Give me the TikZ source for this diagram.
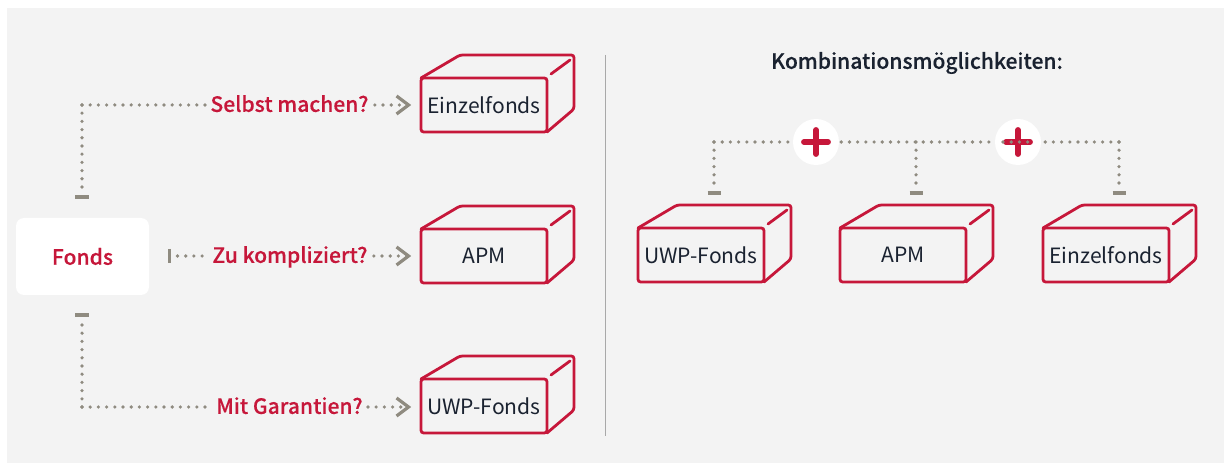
\documentclass[tikz,border=0pt]{standalone}
\usepackage{fontspec}
\setmainfont{Noto Sans CJK SC}
\newfontfamily\semifont[FakeBold=0.25]{Noto Sans CJK SC Medium}
\usetikzlibrary{calc}
\definecolor{crim}{HTML}{C6173A}
\definecolor{dotgray}{HTML}{8F8B80}
\definecolor{ink}{HTML}{1A2230}
\definecolor{panel}{HTML}{F3F3F3}
\definecolor{rulegray}{HTML}{A8A8A8}
\tikzset{
  x=0.75pt,y=-0.75pt,
  cubefront/.style={draw=crim,line width=2.1pt,rounded corners=2pt,minimum width=94.5pt,minimum height=40.5pt,inner sep=0pt,outer sep=0pt,text=ink,font=\fontsize{15.8}{18}\selectfont},
  cubeback/.style={draw=crim,line width=2.1pt,rounded corners=2pt,line cap=round,line join=round},
  dots/.style={draw=dotgray,line width=2.7pt,line cap=round,dash pattern=on 0pt off 6.15pt},
  tick/.style={draw=dotgray,line width=2.4pt},
  chev/.style={draw=dotgray,line width=2.4pt,line join=miter},
  question/.style={text=crim,font=\fontsize{15.8}{18}\selectfont\semifont,inner sep=0pt,text height=12pt,text depth=3.2pt},
  plusdisc/.style={circle,fill=white,minimum size=34.5pt,inner sep=0pt},
  plusbar/.style={draw=crim,line width=4.4pt,line cap=round},
}
\newcommand{\cubebox}[4]{%
  \node[cubefront] (#1) at (#2,#3) {#4};
  \draw[cubeback] (#1.north west) -- ++(39,-23) -- ++(114,0) -- ++(0,54) -- (#1.south east);
  \draw[cubeback] ($(#1.north east)+(4,-4)$) -- ++(19,-14);
}
\begin{document}
\begin{tikzpicture}
\useasboundingbox (0,0) rectangle (1224,463);
\fill[white] (0,0) rectangle (1224,463);
\fill[panel] (7,8) rectangle (1224,463);
% left column
\node[fill=white,rounded corners=6pt,minimum width=99.75pt,minimum height=57.75pt,inner sep=0pt,text=crim,font=\fontsize{15.8}{18}\selectfont\semifont] (fonds) at (82.5,256.5) {Fonds};
\cubebox{e1}{484}{105}{Einzelfonds}
\cubebox{a1}{484}{256}{APM}
\cubebox{u1}{484}{406}{UWP-Fonds}
\node[question,anchor=center] (q1) at (289.5,106) {Selbst machen?};
\node[question,anchor=center] (q2) at (290,257) {Zu kompliziert?};
\node[question,anchor=center] (q3) at (289.5,408) {Mit Garantien?};
\coordinate (t1) at (82,197);
\coordinate (t2) at (169.5,256);
\coordinate (t3) at (82,315);
\coordinate (c1) at (82,105);
\coordinate (c3) at (82,407);
\coordinate (tip1) at (408.5,105);
\coordinate (tip2) at (408.5,256);
\coordinate (tip3) at (408.5,407);
\draw[tick] ($(t1)+(-7,0)$) -- ($(t1)+(7,0)$);
\draw[tick] ($(t3)+(-7,0)$) -- ($(t3)+(7,0)$);
\draw[tick] ($(t2)+(0,-7)$) -- ($(t2)+(0,7)$);
\draw[dots] (c1) -- ($(t1)+(0,-8)$);
\draw[dots] (c1) -- ($(q1.west |- c1)+(-4,0)$);
\draw[dots] ($(t2)+(8,0)$) -- ($(q2.west |- t2)+(-5,0)$);
\draw[dots] (c3) -- ($(t3)+(0,8)$);
\draw[dots] (c3) -- ($(q3.west |- c3)+(-9,0)$);
\draw[dots] ($(q1.east |- tip1)+(6,0)$) -- (tip1);
\draw[dots] ($(q2.east |- tip2)+(6,0)$) -- (tip2);
\draw[dots] ($(q3.east |- tip3)+(5,0)$) -- (tip3);
\foreach \t in {tip1,tip2,tip3}
  \draw[chev] ($(\t)+(-12,-9)$) -- (\t) -- ($(\t)+(-12,9)$);
% divider
\coordinate (d1) at (605.5,55);
\coordinate (d2) at (605.5,436);
\draw[rulegray,line width=0.8pt] (d1) -- (d2);
% right column
\node[text=ink,font=\fontsize{15.8}{18}\selectfont\semifont,inner sep=0pt] (title) at (917,63) {Kombinationsmöglichkeiten:};
\cubebox{u2}{701}{255}{UWP-Fonds}
\cubebox{a2}{903}{255}{APM}
\cubebox{e2}{1106}{255}{Einzelfonds}
\node[plusdisc] (p1) at (816,142) {};
\node[plusdisc] (p2) at (1018,142) {};
\foreach \p in {p1,p2}{
  \draw[plusbar] ($(\p)+(-12,0)$) -- ($(\p)+(12,0)$);
  \draw[plusbar] ($(\p)+(0,-12)$) -- ($(\p)+(0,12)$);
}
\coordinate (k1) at (714,142);
\coordinate (k2) at (916,142);
\coordinate (k3) at (1119,142);
\coordinate (s1) at (714,193);
\coordinate (s2) at (916,193);
\coordinate (s3) at (1119,193);
\foreach \s in {s1,s2,s3}
  \draw[tick] ($(\s)+(-6.5,0)$) -- ($(\s)+(6.5,0)$);
\draw[dots] (k1) -- ($(s1)+(0,-8)$);
\draw[dots] (k2) -- ($(s2)+(0,-8)$);
\draw[dots] (k3) -- ($(s3)+(0,-8)$);
\draw[dots] (k1) -- ($(p1.west)+(-3,0)$);
\draw[dots] ($(p1.east)+(2,0)$) -- ($(p2.west)+(-3,0)$);
\draw[dots] ($(p2)+(-15,0)$) -- ($(p2)+(17,0)$);
\draw[dots] (k3) -- ($(p2.east)+(3,0)$);
\end{tikzpicture}
\end{document}
